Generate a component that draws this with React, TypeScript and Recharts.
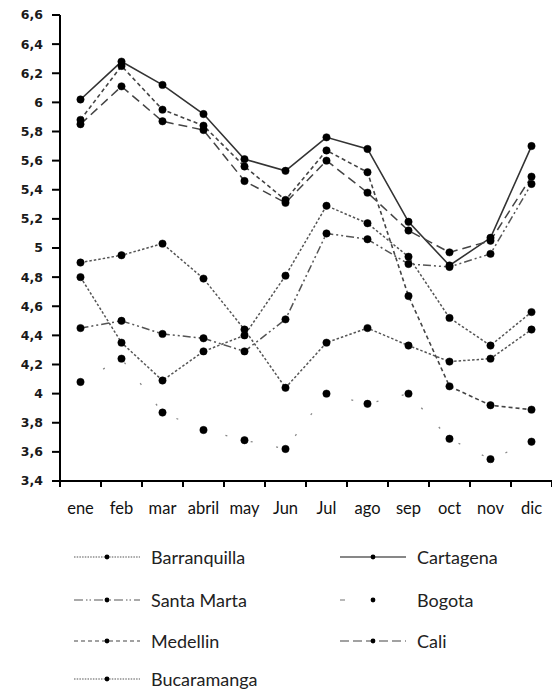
import React from 'react';
import { LineChart, Line, XAxis, YAxis, Legend } from 'recharts';

const months = ['ene', 'feb', 'mar', 'abril', 'may', 'Jun', 'Jul', 'ago', 'sep', 'oct', 'nov', 'dic'];
const barranquilla = [4.80, 4.35, 4.09, 4.29, 4.40, 4.81, 5.29, 5.17, 4.94, 4.52, 4.33, 4.56];
const cartagena = [6.02, 6.28, 6.12, 5.92, 5.61, 5.53, 5.76, 5.68, 5.18, 4.88, 5.07, 5.70];
const santaMarta = [4.45, 4.50, 4.41, 4.38, 4.29, 4.51, 5.10, 5.06, 4.89, 4.87, 4.96, 5.44];
const bogota = [4.08, 4.24, 3.87, 3.75, 3.68, 3.62, 4.00, 3.93, 4.00, 3.69, 3.55, 3.67];
const medellin = [5.88, 6.25, 5.95, 5.84, 5.56, 5.33, 5.67, 5.52, 4.67, 4.05, 3.92, 3.89];
const cali = [5.85, 6.11, 5.87, 5.81, 5.46, 5.31, 5.60, 5.38, 5.12, 4.97, 5.05, 5.49];
const bucaramanga = [4.90, 4.95, 5.03, 4.79, 4.44, 4.04, 4.35, 4.45, 4.33, 4.22, 4.24, 4.44];
const yTicks = [3.4, 3.6, 3.8, 4, 4.2, 4.4, 4.6, 4.8, 5, 5.2, 5.4, 5.6, 5.8, 6, 6.2, 6.4, 6.6];

const data = months.map((m, i) => ({
  m,
  barranquilla: barranquilla[i],
  cartagena: cartagena[i],
  santaMarta: santaMarta[i],
  bogota: bogota[i],
  medellin: medellin[i],
  cali: cali[i],
  bucaramanga: bucaramanga[i],
}));

type S = { key: string; name: string; dash?: string; legendDash?: string; color: string; width: number };
const series: S[] = [
  { key: 'barranquilla', name: 'Barranquilla', dash: '2.5 2', legendDash: '1.5 1.2', color: '#555', width: 1.5 },
  { key: 'cartagena', name: 'Cartagena', color: '#333', width: 1.6 },
  { key: 'santaMarta', name: 'Santa Marta', dash: '8 3 2 3 2 3', legendDash: '9 3 1.5 2 1.5 3', color: '#555', width: 1.5 },
  { key: 'bogota', name: 'Bogota', dash: '2 24', legendDash: '5 80', color: '#888', width: 1.3 },
  { key: 'medellin', name: 'Medellin', dash: '4 3', legendDash: '4 3', color: '#444', width: 1.6 },
  { key: 'cali', name: 'Cali', dash: '9 5', legendDash: '9 4', color: '#444', width: 1.5 },
  { key: 'bucaramanga', name: 'Bucaramanga', dash: '2.5 2', legendDash: '1.5 1.2', color: '#555', width: 1.5 },
];

const CHART_W = 552;
const CHART_H = 690;
const Y_AXIS_W = 60;
const BAND = (CHART_W - Y_AXIS_W) / months.length;
const LEGEND_TOP = 521;
const LEGEND_H = 169;

const fmt = (v: number) => String(v).replace('.', ',');

const XTick = (props: any) => {
  const { x, y, payload, index } = props;
  const half = BAND / 2;
  return (
    <g>
      <line x1={x - half} x2={x - half} y1={y} y2={y + 6} stroke="#000" strokeWidth={2} />
      {index === months.length - 1 && (
        <line x1={x + half} x2={x + half} y1={y} y2={y + 6} stroke="#000" strokeWidth={2} />
      )}
      <text
        x={x}
        y={y + 33}
        textAnchor="middle"
        fontFamily="Lato"
        fontSize={16.5}
        fill="#111"
      >
        {payload.value}
      </text>
    </g>
  );
};

const legendRows = [
  ['barranquilla', 'cartagena'],
  ['santaMarta', 'bogota'],
  ['medellin', 'cali'],
  ['bucaramanga'],
];
const rowY = [36, 79, 120, 158];
const colX = [
  { l1: 74, l2: 140, mk: 107, tx: 151 },
  { l1: 340, l2: 406, mk: 373, tx: 417 },
];

const renderLegend = () => (
  <svg width={CHART_W} height={LEGEND_H} style={{ display: 'block' }}>
    {legendRows.map((row, ri) =>
      row.map((k, ci) => {
        const s = series.find((q) => q.key === k)!;
        const c = colX[ci];
        const yy = rowY[ri];
        return (
          <g key={k}>
            <line
              x1={c.l1}
              x2={c.l2}
              y1={yy}
              y2={yy}
              stroke={s.key === 'cartagena' ? '#111' : s.color}
              strokeWidth={1.2}
              strokeDasharray={s.legendDash}
            />
            <circle cx={c.mk} cy={yy} r={2.4} fill="#000" />
            <text x={c.tx} y={yy} dominantBaseline="central" fontFamily="Lato" fontSize={18} fill="#222">
              {s.name}
            </text>
          </g>
        );
      })
    )}
  </svg>
);

export default function App() {
  return (
    <div style={{ position: 'absolute', left: 0, top: 0, width: CHART_W, height: CHART_H, background: '#fff' }}>
      <LineChart width={CHART_W} height={CHART_H} data={data} margin={{ top: 15, right: 0, left: 0, bottom: 0 }}>
        <XAxis
          dataKey="m"
          padding={{ left: BAND / 2, right: BAND / 2 }}
          axisLine={{ stroke: '#000', strokeWidth: 2 }}
          tickLine={false}
          tickSize={0}
          tickMargin={0}
          height={40}
          interval={0}
          tick={<XTick />}
        />
        <YAxis
          domain={[3.4, 6.6]}
          ticks={yTicks}
          interval={0}
          width={Y_AXIS_W}
          axisLine={{ stroke: '#000', strokeWidth: 2 }}
          tickLine={{ stroke: '#000', strokeWidth: 2 }}
          tickSize={8}
          tickMargin={9}
          tickFormatter={fmt}
          tick={{ fontFamily: 'DejaVu Sans', fontWeight: 'bold', fontSize: 12.5, fill: '#1a1a1a' }}
        />
        <Legend
          verticalAlign="bottom"
          content={renderLegend}
          wrapperStyle={{ top: LEGEND_TOP, left: 0, bottom: 'auto', width: CHART_W, height: LEGEND_H }}
        />
        {series.map((s) => (
          <Line
            key={s.key}
            dataKey={s.key}
            name={s.name}
            stroke={s.color}
            strokeWidth={s.width}
            strokeDasharray={s.dash}
            dot={{ r: 3.7, fill: '#000', stroke: '#000', strokeWidth: 0.5, strokeDasharray: '' }}
            activeDot={false}
            isAnimationActive={false}
          />
        ))}
      </LineChart>
    </div>
  );
}
